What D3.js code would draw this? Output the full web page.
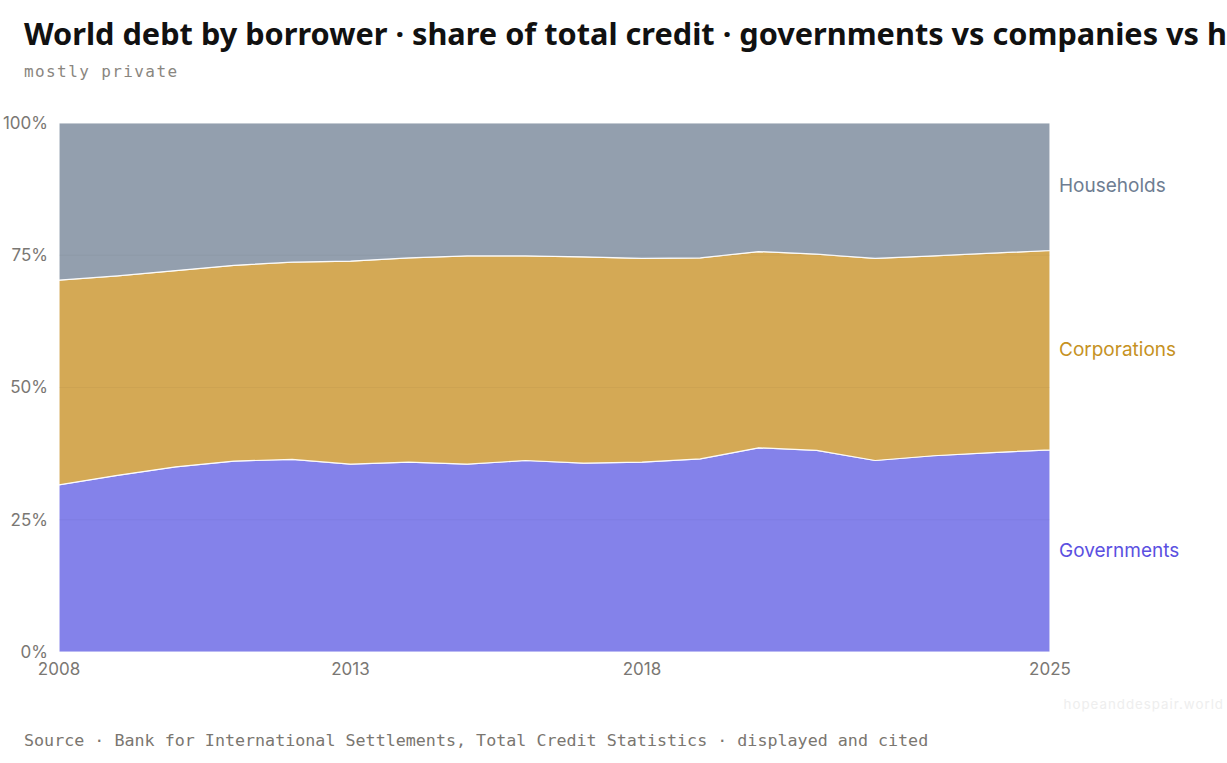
<!DOCTYPE html>
<html><head><meta charset="utf-8">
<script src="https://cdn.jsdelivr.net/npm/d3@7"></script>
<style>
html,body{margin:0;padding:0;background:#fff;}
svg{display:block;}
</style></head>
<body><svg id="chart" width="1227" height="763"></svg>
<script>
const years = [2008,2009,2010,2011,2012,2013,2014,2015,2016,2017,2018,2019,2020,2021,2022,2023,2024,2025];
const governments = [31.6,33.4,35.0,36.1,36.4,35.5,35.9,35.5,36.2,35.7,35.9,36.5,38.6,38.1,36.2,37.1,37.7,38.2];
const corporations = [38.7,37.7,37.1,37.0,37.3,38.4,38.6,39.4,38.7,39.0,38.5,38.0,37.1,37.1,38.2,37.8,37.7,37.7];
const households = [29.7,28.9,27.9,26.9,26.3,26.1,25.5,25.1,25.1,25.3,25.6,25.5,24.3,24.8,25.6,25.1,24.6,24.1];
const seriesNames = ["Governments","Corporations","Households"];
const yTicks = [0,25,50,75,100];
const xTicks = [2008,2013,2018,2025];

const fills = {Governments:"#8482ea",Corporations:"#d4a955",Households:"#939fae"};
const labelColors = {Governments:"#5b50e1",Corporations:"#c6921f",Households:"#6e7d92"};

const svg = d3.select("#chart");
const m = {left:59,right:1050,top:123,bottom:652};
const x = d3.scaleLinear().domain([2008,2025]).range([m.left,m.right]);
const y = d3.scaleLinear().domain([0,100]).range([m.bottom,m.top]);

const rows = years.map((yr,i)=>({year:yr,Governments:governments[i],Corporations:corporations[i],Households:households[i]}));
const stack = d3.stack().keys(seriesNames).offset(d3.stackOffsetExpand);
const layers = stack(rows);

const area = d3.area().x(d=>x(d.data.year)).y0(d=>y(d[0]*100)).y1(d=>y(d[1]*100));

svg.append("g").selectAll("path").data(layers).join("path")
  .attr("d",area).attr("fill",d=>fills[d.key])
  .attr("stroke","#fff").attr("stroke-width",1.2).attr("stroke-opacity",0.9);

// faint gridlines
svg.append("g").selectAll("line").data(yTicks.filter(t=>t>0&&t<100)).join("line")
  .attr("x1",m.left).attr("x2",m.right).attr("y1",d=>y(d)).attr("y2",d=>y(d))
  .attr("stroke","#000").attr("stroke-opacity",0.03);

// y labels
svg.append("g").selectAll("text").data(yTicks).join("text")
  .attr("x",48).attr("y",d=>y(d)).attr("dy","0.35em").attr("text-anchor","end")
  .attr("font-family","Inter, sans-serif").attr("font-size",17).attr("fill","#7a7773")
  .text(d=>d+"%");

// x labels
svg.append("g").selectAll("text").data(xTicks).join("text")
  .attr("x",d=>x(d)).attr("y",675).attr("text-anchor","middle")
  .attr("font-family","Inter, sans-serif").attr("font-size",17).attr("fill","#7a7773")
  .text(d=>d);

// series labels at right, centered on last layer segment
const last = layers.map(l=>({key:l.key,mid:(l[l.length-1][0]+l[l.length-1][1])/2*100}));
svg.append("g").selectAll("text").data(last).join("text")
  .attr("x",1059).attr("y",d=>y(d.mid)-1).attr("dy","0.35em")
  .attr("font-family","Inter, sans-serif").attr("font-size",19).attr("fill",d=>labelColors[d.key])
  .text(d=>d.key);

// title
svg.append("text").attr("x",24).attr("y",45)
  .attr("font-family","'Noto Sans', sans-serif").attr("font-weight",700).attr("font-size",30.7).attr("fill","#111")
  .text("World debt by borrower · share of total credit · governments vs companies vs households");
svg.append("text").attr("x",24).attr("y",77)
  .attr("font-family","'DejaVu Sans Mono', monospace").attr("font-size",16).attr("letter-spacing",1.4).attr("fill","#8a8680")
  .text("mostly private");

svg.append("text").attr("x",24).attr("y",746)
  .attr("font-family","'DejaVu Sans Mono', monospace").attr("font-size",16.7).attr("fill","#7a7670")
  .text("Source · Bank for International Settlements, Total Credit Statistics · displayed and cited");

svg.append("text").attr("x",1224).attr("y",709).attr("text-anchor","end")
  .attr("font-family","Inter, sans-serif").attr("font-size",13.3).attr("letter-spacing",1).attr("fill","#eeeeee")
  .text("hopeanddespair.world");
</script></body></html>
